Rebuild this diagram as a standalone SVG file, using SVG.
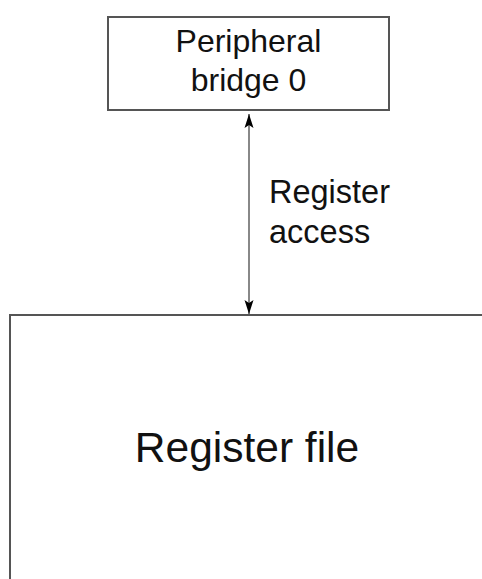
<svg xmlns="http://www.w3.org/2000/svg" width="482" height="579" viewBox="0 0 482 579">
  <style>
    .box { fill: #ffffff; stroke: #555555; stroke-width: 2; }
    .label { font-family: "Liberation Sans", Arial, Helvetica, sans-serif; fill: #111111; }
    .link { stroke: #888888; stroke-width: 2; fill: none; }
  </style>
  <defs>
    <!-- notched arrowhead used at both ends of the access link -->
    <marker id="tip" viewBox="0 0 14 10" refX="14" refY="5" markerWidth="14" markerHeight="10" markerUnits="userSpaceOnUse" orient="auto-start-reverse">
      <path d="M0,0.5 L14,5 L0,9.5 L3,5 Z" fill="#000000"/>
    </marker>
  </defs>
  <rect width="482" height="579" fill="#ffffff"/>

  <g id="bridge">
    <rect class="box" x="108" y="17" width="281" height="93"/>
    <text class="label" x="248.5" y="52" font-size="32" text-anchor="middle">Peripheral</text>
    <text class="label" x="248.5" y="91" font-size="32" text-anchor="middle">bridge 0</text>
  </g>

  <g id="regfile">
    <path class="box" d="M10,579 L10,315 L482,315" fill="none"/>
    <text class="label" x="247" y="462" font-size="42.5" text-anchor="middle">Register file</text>
  </g>

  <g id="connectors">
    <line class="link" x1="249" y1="114" x2="249" y2="314" marker-start="url(#tip)" marker-end="url(#tip)"/>
    <text class="label" x="269" y="203" font-size="32.5">Register</text>
    <text class="label" x="269" y="243" font-size="32.5">access</text>
  </g>
</svg>
